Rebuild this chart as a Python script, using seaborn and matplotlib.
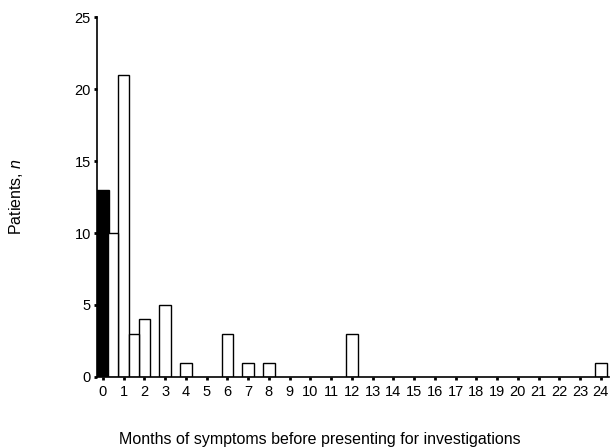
import numpy as np
import pandas as pd
import matplotlib
matplotlib.use("Agg")
import matplotlib.pyplot as plt
import seaborn as sns

# -- data --
# black bar (month 0)
black_months = [0]
black_counts = [13]
# white bars on whole months
months = [1, 2, 3, 4, 6, 7, 8, 12, 24]
counts = [21, 4, 5, 1, 3, 1, 1, 3, 1]
# white bars sitting between months
half_months = [0.5, 1.5]
half_counts = [10, 3]

tick_months = list(range(0, 25))
y_ticks = [0, 5, 10, 15, 20, 25]

sns.set_style("ticks")
plt.rcParams['font.family'] = ['Liberation Sans', 'DejaVu Sans']
plt.rcParams['mathtext.fontset'] = 'custom'
plt.rcParams['mathtext.it'] = 'Liberation Sans:italic'
plt.rcParams['text.color'] = 'black'
plt.rcParams['axes.labelcolor'] = 'black'
plt.rcParams['xtick.color'] = 'black'
plt.rcParams['ytick.color'] = 'black'
plt.rcParams['axes.edgecolor'] = 'black'

df_black = pd.DataFrame({'month': black_months, 'patients': black_counts})
df_full = pd.DataFrame({'month': months, 'patients': counts})
df_half = pd.DataFrame({'month': half_months, 'patients': half_counts})

fig = plt.figure(figsize=(6.14, 4.48), dpi=100)
ax = fig.add_axes([0.158, 0.1585, 0.834, 0.8035])

sns.barplot(data=df_black, x='month', y='patients', native_scale=True, width=0.58,
            color='black', edgecolor='black', linewidth=1, saturation=1, ax=ax)
sns.barplot(data=df_full, x='month', y='patients', native_scale=True, width=0.56,
            color='white', edgecolor='black', linewidth=1, saturation=1, ax=ax)
sns.barplot(data=df_half, x='month', y='patients', native_scale=True, width=0.46,
            color='white', edgecolor='black', linewidth=1, saturation=1, ax=ax)

ax.set_xlim(-0.28, 24.4)
ax.set_ylim(0, 25)
ax.set_xticks(tick_months)
ax.set_xticklabels([str(m) for m in tick_months])
ax.set_yticks(y_ticks)

sns.despine(ax=ax)
for s in ['left', 'bottom']:
    ax.spines[s].set_linewidth(1.2)
ax.tick_params(axis='both', direction='out', length=2.5, width=2, labelsize=10.5, pad=2,
               colors='black')
ax.tick_params(axis='x', pad=3)

ax.set_xlabel('Months of symptoms before presenting for investigations', fontsize=11.5)
ax.set_ylabel('Patients, $n$', fontsize=11.5)
ax.xaxis.set_label_coords(0.436, -0.153)
ax.yaxis.set_label_coords(-0.14, 0.5)

plt.savefig('out.png', dpi=100)
